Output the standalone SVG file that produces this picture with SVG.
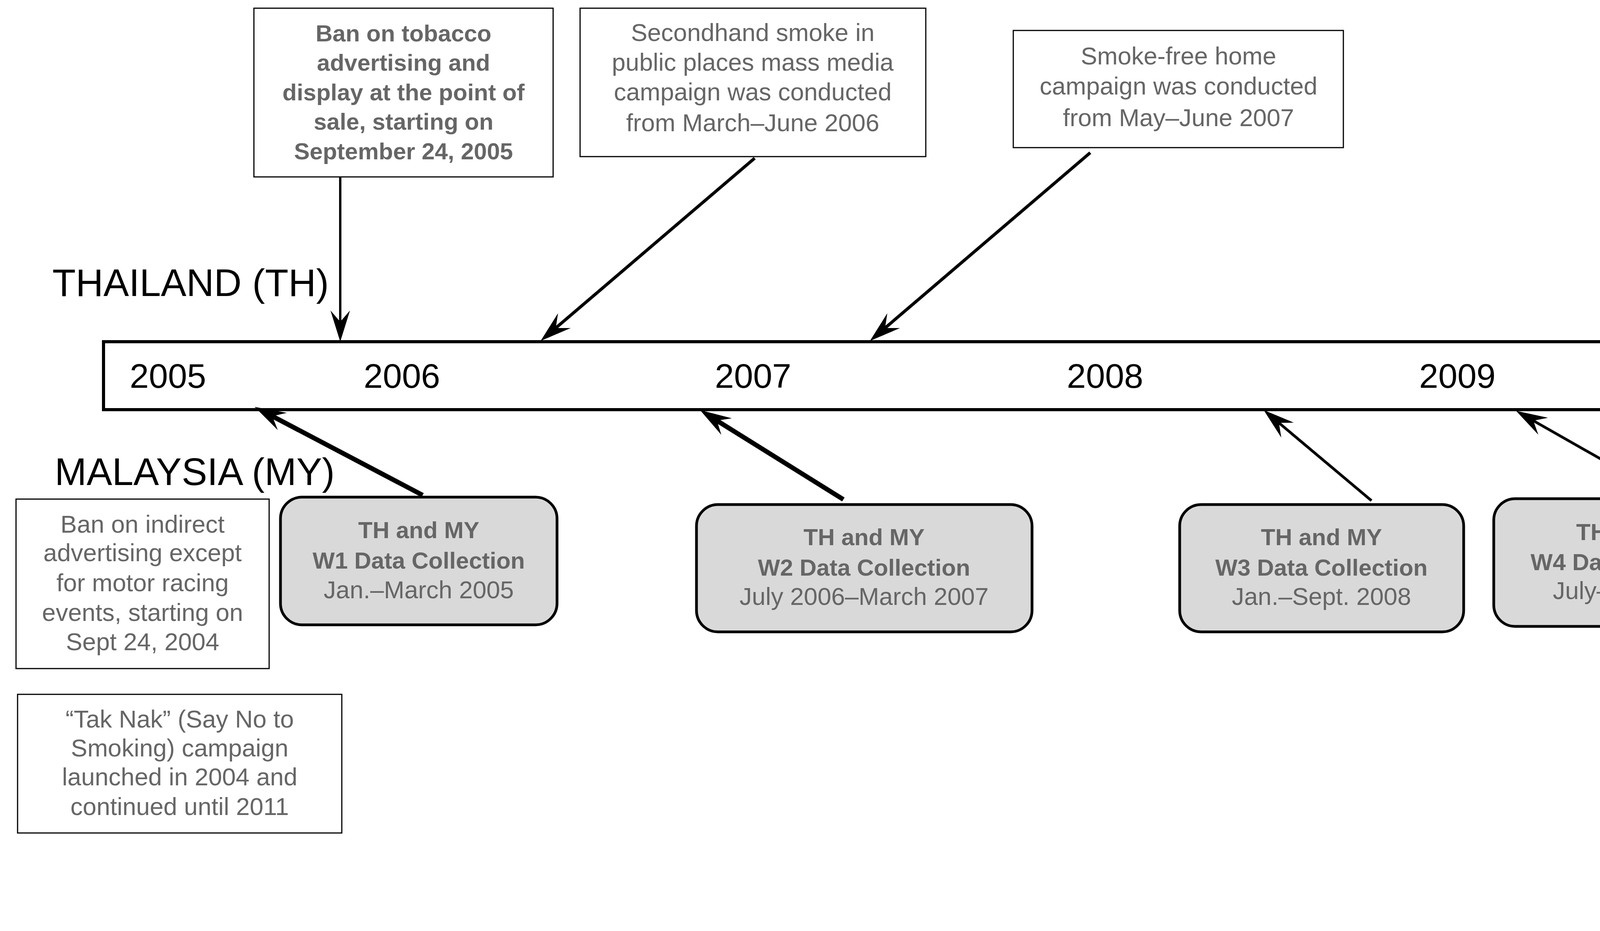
<svg xmlns="http://www.w3.org/2000/svg" width="5930" height="2384" viewBox="0 0 5930 2384">
<style>
.bg{fill:#ffffff}
.box{fill:#ffffff;stroke:#000;stroke-width:3}
.wave{fill:#d9d9d9;stroke:#000;stroke-width:7}
.t{font-family:"Liberation Sans",Arial,sans-serif;font-size:63px;fill:#666666;text-anchor:middle}
.b{font-family:"Liberation Sans",Arial,sans-serif;font-size:60px;font-weight:bold;fill:#666666;text-anchor:middle}
.yr{font-family:"Liberation Sans",Arial,sans-serif;font-size:88px;fill:#000}
.country{font-family:"Liberation Sans",Arial,sans-serif;font-size:98px;fill:#000}
.ln{stroke:#000;fill:none;marker-end:url(#ah)}
</style>
<defs>
<marker id="ah" markerUnits="userSpaceOnUse" viewBox="0 0 80 50" markerWidth="80" markerHeight="50" refX="35" refY="25" orient="auto">
<path d="M80,25 L0,0 L29,25 L0,50 Z" fill="#000"/>
</marker>
</defs>
<rect class="bg" x="0" y="0" width="5930" height="2384"/>

<g id="timeline">
<rect x="265" y="875" width="5620" height="174" fill="#fff" stroke="#000" stroke-width="8"/>
<text class="yr" x="332" y="993">2005</text>
<text class="yr" x="931" y="993">2006</text>
<text class="yr" x="1830" y="993">2007</text>
<text class="yr" x="2731" y="993">2008</text>
<text class="yr" x="3633" y="993">2009</text>
<text class="yr" x="4533" y="993">2010</text>
<text class="yr" x="5433" y="993">2011</text>
</g>

<g id="labels">
<text class="country" x="134" y="758">THAILAND (TH)</text>
<text class="country" x="140" y="1242">MALAYSIA (MY)</text>
</g>

<g id="connectors">
<line class="ln" x1="871" y1="453" x2="871" y2="830" stroke-width="6"/>
<line class="ln" x1="1932" y1="405" x2="1418.2" y2="843.8" stroke-width="8"/>
<line class="ln" x1="2791" y1="391" x2="2261.2" y2="843.8" stroke-width="8"/>
<line class="ln" x1="5767" y1="699" x2="5631.8" y2="843.2" stroke-width="7"/>
<line class="ln" x1="1082" y1="1268" x2="691.8" y2="1062.9" stroke-width="12"/>
<line class="ln" x1="2159" y1="1279" x2="1830.2" y2="1073.8" stroke-width="12"/>
<line class="ln" x1="3511" y1="1282" x2="3269.4" y2="1078.9" stroke-width="7"/>
<line class="ln" x1="4268" y1="1272" x2="3920.1" y2="1074.2" stroke-width="7"/>
<line class="ln" x1="4874" y1="1620" x2="4641.2" y2="1093.2" stroke-width="7"/>
<line class="ln" x1="5658" y1="1274" x2="5658" y2="1097" stroke-width="7"/>
</g>

<g id="th-ad-ban">
<rect class="box" x="650" y="21" width="766" height="432"/>
<text class="b" x="1033" y="106">Ban on tobacco</text>
<text class="b" x="1033" y="181">advertising and</text>
<text class="b" x="1033" y="257">display at the point of</text>
<text class="b" x="1033" y="332">sale, starting on</text>
<text class="b" x="1033" y="408">September 24, 2005</text>
</g>

<g id="th-secondhand">
<rect class="box" x="1485" y="21" width="885" height="380"/>
<text class="t" x="1927" y="105">Secondhand smoke in</text>
<text class="t" x="1927" y="181">public places mass media</text>
<text class="t" x="1927" y="257">campaign was conducted</text>
<text class="t" x="1927" y="336">from March–June 2006</text>
</g>

<g id="th-smokefree-home">
<rect class="box" x="2594" y="78" width="845" height="300"/>
<text class="t" x="3017" y="165">Smoke-free home</text>
<text class="t" x="3017" y="242">campaign was conducted</text>
<text class="t" x="3017" y="323">from May–June 2007</text>
</g>

<g id="th-w5">
<rect class="wave" x="5110" y="370" width="775" height="328" rx="55" ry="55"/>
<text class="b" x="5498" y="477">TH</text>
<text class="b" x="5498" y="553">W5 Data Collection</text>
<text class="t" x="5498" y="626">Feb-Apr 2011</text>
</g>

<g id="my-indirect-ban">
<rect class="box" x="41" y="1278" width="648" height="434"/>
<text class="t" x="365" y="1364">Ban on indirect</text>
<text class="t" x="365" y="1437">advertising except</text>
<text class="t" x="365" y="1514">for motor racing</text>
<text class="t" x="365" y="1590">events, starting on</text>
<text class="t" x="365" y="1665">Sept 24, 2004</text>
</g>

<g id="my-taknak">
<rect class="box" x="45" y="1778" width="830" height="355"/>
<text class="t" x="460" y="1863">“Tak Nak” (Say No to</text>
<text class="t" x="460" y="1937">Smoking) campaign</text>
<text class="t" x="460" y="2011">launched in 2004 and</text>
<text class="t" x="460" y="2087">continued until 2011</text>
</g>

<g id="w1">
<rect class="wave" x="718" y="1273" width="708" height="327" rx="55" ry="55"/>
<text class="b" x="1072" y="1378">TH and MY</text>
<text class="b" x="1072" y="1456">W1 Data Collection</text>
<text class="t" x="1072" y="1532">Jan.–March 2005</text>
</g>

<g id="w2">
<rect class="wave" x="1783" y="1292" width="859" height="326" rx="55" ry="55"/>
<text class="b" x="2212" y="1396">TH and MY</text>
<text class="b" x="2212" y="1474">W2 Data Collection</text>
<text class="t" x="2212" y="1549">July 2006–March 2007</text>
</g>

<g id="w3">
<rect class="wave" x="3020" y="1292" width="727" height="326" rx="55" ry="55"/>
<text class="b" x="3383" y="1396">TH and MY</text>
<text class="b" x="3383" y="1474">W3 Data Collection</text>
<text class="t" x="3383" y="1549">Jan.–Sept. 2008</text>
</g>

<g id="w4">
<rect class="wave" x="3824" y="1277" width="731" height="327" rx="55" ry="55"/>
<text class="b" x="4190" y="1383">TH and MY</text>
<text class="b" x="4190" y="1460">W4 Data Collection</text>
<text class="t" x="4190" y="1534">July–Nov. 2009</text>
</g>

<g id="my-w5">
<rect class="wave" x="5065" y="1292" width="824" height="326" rx="55" ry="55"/>
<text class="b" x="5477" y="1396">MY</text>
<text class="b" x="5477" y="1474">W5 Data Collection</text>
<text class="t" x="5477" y="1549">May 2011–April 2012</text>
</g>

<g id="my-price-ban">
<rect class="box" x="4356" y="1654" width="851" height="299"/>
<text class="t" x="4781" y="1737">Ban on price promotions</text>
<text class="t" x="4781" y="1813">for tobacco products,</text>
<text class="t" x="4781" y="1889">starting January 1, 2010</text>
</g>

<g id="my-kempen">
<rect class="box" x="4217" y="1985" width="1122" height="376"/>
<text class="t" x="4778" y="2069">“Kempen nafas baru bermula</text>
<text class="t" x="4778" y="2146">Ramadan” (New Breath Beginning</text>
<text class="t" x="4778" y="2220">Ramadan) smoking cessation</text>
<text class="t" x="4778" y="2297">campaign ran during 2010</text>
</g>
</svg>
